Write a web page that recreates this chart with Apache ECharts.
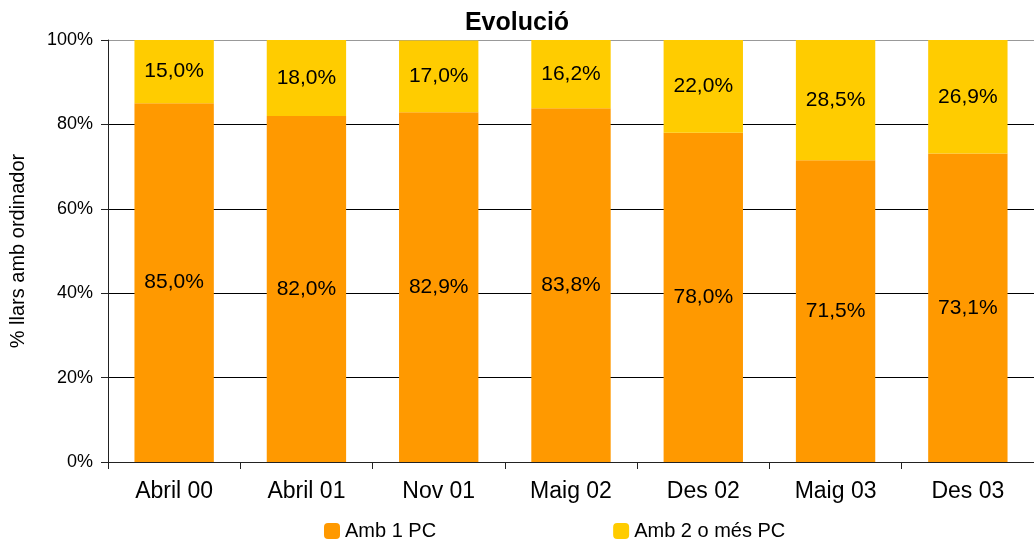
<!DOCTYPE html>
<html><head><meta charset="utf-8">
<script src="https://cdn.jsdelivr.net/npm/echarts@6/dist/echarts.min.js"></script>
<style>html,body{margin:0;padding:0;background:#fff}#c{width:1034px;height:541px}</style>
</head><body><div id="c"></div>
<script>
const categories = ['Abril 00','Abril 01','Nov 01','Maig 02','Des 02','Maig 03','Des 03'];
const amb1PC = [85.0, 82.0, 82.9, 83.8, 78.0, 71.5, 73.1];
const amb2PC = [15.0, 18.0, 17.0, 16.2, 22.0, 28.5, 26.9];
const yTicks = [0, 20, 40, 60, 80, 100];

const font = 'Liberation Sans, Arial, sans-serif';
const fmt = p => p.value.toFixed(1).replace('.', ',') + '%';
const chart = echarts.init(document.getElementById('c'), null, {renderer:'canvas'});
chart.setOption({
  animation: false,
  title: {text: 'Evolució', left: 'center', top: 6, textStyle: {fontFamily: font, fontSize: 25, fontWeight: 'bold', color: '#000'}},
  legend: {
    left: 324, top: 521, padding: 0, itemWidth: 16, itemHeight: 16, itemGap: 177,
    icon: 'roundRect',
    textStyle: {fontFamily: font, fontSize: 20, color: '#000'},
    data: ['Amb 1 PC', 'Amb 2 o més PC']
  },
  grid: {left: 108, top: 40, width: 927, height: 422, containLabel: false},
  xAxis: {
    type: 'category', data: categories,
    axisLine: {lineStyle: {color: '#222', width: 1}},
    axisTick: {show: true, alignWithLabel: false, length: 7, lineStyle: {color: '#222'}},
    axisLabel: {fontFamily: font, fontSize: 23, color: '#000', margin: 18}
  },
  yAxis: {
    type: 'value', min: 0, max: 100, interval: 20,
    name: '% llars amb ordinador', nameLocation: 'middle', nameGap: 80,
    nameTextStyle: {fontFamily: font, fontSize: 20, color: '#000'},
    axisLine: {show: true, lineStyle: {color: '#222'}},
    axisTick: {show: true, length: 7, lineStyle: {color: '#222'}},
    axisLabel: {fontFamily: font, fontSize: 18, color: '#000', margin: 15,
      formatter: v => yTicks.includes(v) ? v + '%' : ''},
    splitLine: {show: true, lineStyle: {color: ['#000','#000','#000','#000','#000','#999'], width: 1}}
  },
  series: [
    {name: 'Amb 1 PC', type: 'bar', stack: 's', data: amb1PC, barWidth: '60%',
     itemStyle: {color: '#FF9900'},
     label: {show: true, position: 'inside', formatter: fmt, fontFamily: font, fontSize: 21, color: '#000'}},
    {name: 'Amb 2 o més PC', type: 'bar', stack: 's', data: amb2PC, barWidth: '60%',
     itemStyle: {color: '#FFCC00'},
     label: {show: true, position: 'inside', formatter: fmt, fontFamily: font, fontSize: 21, color: '#000'}}
  ]
});
</script></body></html>
